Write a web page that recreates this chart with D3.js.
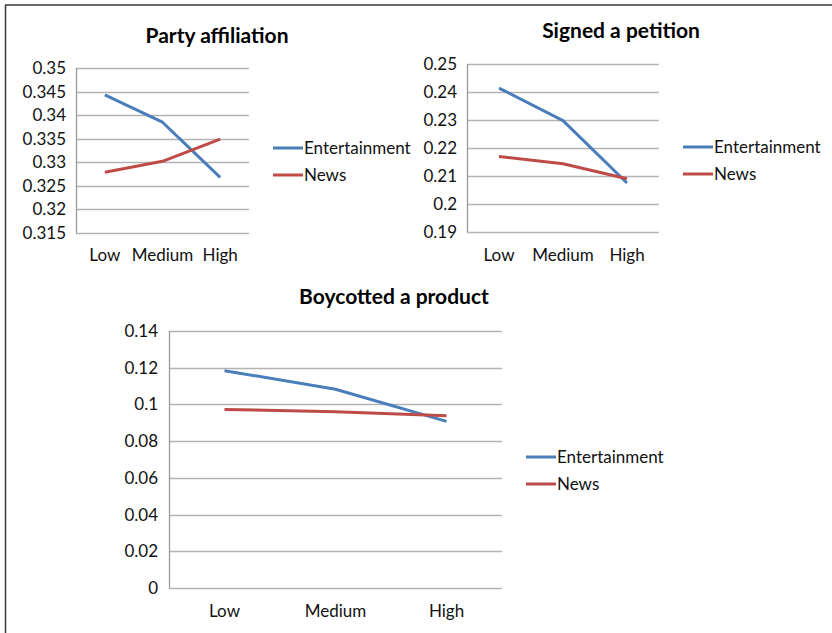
<!DOCTYPE html>
<html>
<head>
<meta charset="utf-8">
<script src="https://cdn.jsdelivr.net/npm/d3@7"></script>
<style>
  html, body { margin: 0; padding: 0; background: #fff; }
  svg { display: block; font-family: Lato, "Open Sans", sans-serif; }
</style>
</head>
<body>
<svg id="chart" width="832" height="633"></svg>
<script>
// ---- data ----
const categories = ["Low", "Medium", "High"];
const seriesNames = ["Entertainment", "News"];
const seriesColors = ["#4a7ebb", "#be4b48"];

const partyEntertainment = [0.3443, 0.3385, 0.3268];
const partyNews = [0.3279, 0.3302, 0.3349];
const partyTicks = [0.315, 0.32, 0.325, 0.33, 0.335, 0.34, 0.345, 0.35];

const petitionEntertainment = [0.2414, 0.2298, 0.2075];
const petitionNews = [0.2170, 0.2144, 0.2090];
const petitionTicks = [0.19, 0.2, 0.21, 0.22, 0.23, 0.24, 0.25];

const boycottEntertainment = [0.1184, 0.1083, 0.0908];
const boycottNews = [0.0973, 0.0960, 0.0938];
const boycottTicks = [0, 0.02, 0.04, 0.06, 0.08, 0.1, 0.12, 0.14];

const titles = ["Party affiliation", "Signed a petition", "Boycotted a product"];

// ---- layout ----
const panels = [
  { title: titles[0], ent: partyEntertainment, news: partyNews, ticks: partyTicks,
    x0: 76, x1: 249, y0: 68, y1: 233, titleX: 217, titleY: 43, catY: 261, labelX: 66,
    legX: 273, legY: 148 },
  { title: titles[1], ent: petitionEntertainment, news: petitionNews, ticks: petitionTicks,
    x0: 467, x1: 659, y0: 64, y1: 232, titleX: 621, titleY: 38, catY: 261, labelX: 457,
    legX: 683, legY: 147 },
  { title: titles[2], ent: boycottEntertainment, news: boycottNews, ticks: boycottTicks,
    x0: 169, x1: 502, y0: 331, y1: 588, titleX: 394, titleY: 304, catY: 617, labelX: 158,
    legX: 526, legY: 457 }
];

const svg = d3.select("#chart");

// outer frame (top and left edges)
svg.append("line").attr("x1", 5).attr("x2", 832).attr("y1", 5).attr("y2", 5)
  .attr("stroke", "#3a3a3a").attr("stroke-width", 1.5);
svg.append("line").attr("x1", 5.5).attr("x2", 5.5).attr("y1", 5).attr("y2", 633)
  .attr("stroke", "#3a3a3a").attr("stroke-width", 1.5);

const fmt = v => String(+v.toFixed(3));
const labelSize = 17;

panels.forEach(p => {
  const g = svg.append("g");
  const x = d3.scaleBand().domain(categories).range([p.x0, p.x1]).padding(0);
  const y = d3.scaleLinear().domain([p.ticks[0], p.ticks[p.ticks.length - 1]]).range([p.y1, p.y0]);

  // gridlines
  g.append("g").selectAll("line").data(p.ticks).join("line")
    .attr("x1", p.x0).attr("x2", p.x1)
    .attr("y1", d => Math.round(y(d)) + 0.5).attr("y2", d => Math.round(y(d)) + 0.5)
    .attr("stroke", "#b3b3b3").attr("stroke-width", 1.3);

  // y axis
  const yAxis = d3.axisLeft(y).tickValues(p.ticks).tickFormat(fmt).tickSize(0).tickPadding(0);
  const ya = g.append("g").attr("transform", `translate(${p.labelX},0)`).call(yAxis);
  ya.select(".domain").remove();
  ya.selectAll("text").attr("font-size", labelSize).attr("fill", "#111").attr("font-family", "Lato, sans-serif");
  g.append("line").attr("x1", p.x0 + 0.5).attr("x2", p.x0 + 0.5).attr("y1", p.y0).attr("y2", p.y1)
    .attr("stroke", "#9a9a9a").attr("stroke-width", 1.3);

  // x axis labels
  const xAxis = d3.axisBottom(x).tickSize(0).tickPadding(0);
  const xa = g.append("g").attr("transform", `translate(0,${p.catY})`).call(xAxis);
  xa.select(".domain").remove();
  xa.selectAll("text").attr("font-size", labelSize).attr("fill", "#111").attr("dy", 0)
    .attr("font-family", "Lato, sans-serif");

  // lines
  const line = d3.line().x((d, i) => x(categories[i]) + x.bandwidth() / 2).y(d => y(d));
  [p.ent, p.news].forEach((vals, si) => {
    g.append("path").datum(vals).attr("d", line)
      .attr("fill", "none").attr("stroke", seriesColors[si]).attr("stroke-width", 3)
      .attr("stroke-linejoin", "round");
  });

  // title
  g.append("text").attr("x", p.titleX).attr("y", p.titleY).attr("text-anchor", "middle")
    .attr("font-size", 21).attr("font-weight", "bold").attr("fill", "#000").text(p.title);

  // legend
  seriesNames.forEach((name, si) => {
    const ly = p.legY + si * 27;
    g.append("line").attr("x1", p.legX).attr("x2", p.legX + 30).attr("y1", ly).attr("y2", ly)
      .attr("stroke", seriesColors[si]).attr("stroke-width", 3);
    g.append("text").attr("x", p.legX + 31).attr("y", ly).attr("dy", "0.35em")
      .attr("font-size", labelSize).attr("fill", "#111").text(name);
  });
});
</script>
</body>
</html>
